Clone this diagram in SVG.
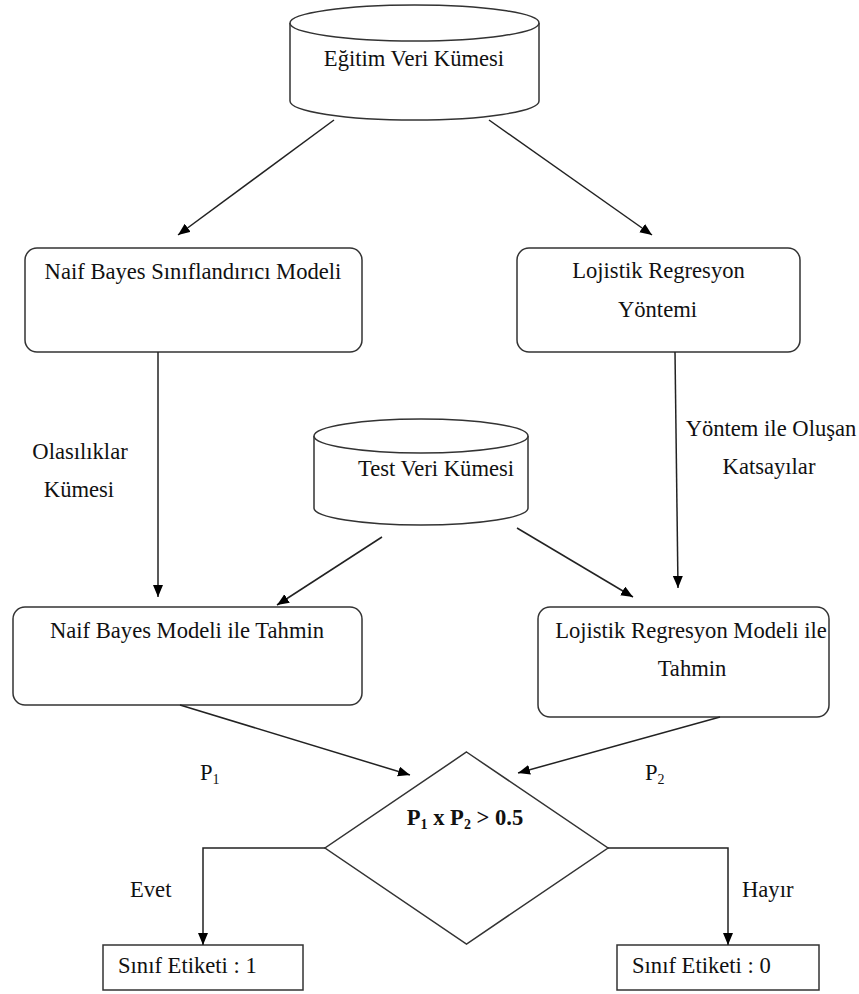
<svg xmlns="http://www.w3.org/2000/svg" width="859" height="994" viewBox="0 0 859 994">
  <style>
    text { font-family: "Liberation Serif", "Times New Roman", serif; font-size: 22.6px; fill: #111; }
    .c { text-anchor: middle; }
    .b { font-weight: bold; }
    .shape { fill: #fff; stroke: #333; stroke-width: 1.5; }
    .edge { fill: none; stroke: #222; stroke-width: 1.5; marker-end: url(#arrow); }
  </style>
  <defs>
    <marker id="arrow" markerUnits="userSpaceOnUse" markerWidth="13" markerHeight="11" refX="12" refY="5" orient="auto">
      <path d="M0,0 L12,5 L0,10 z" fill="#000"/>
    </marker>
  </defs>

  <rect width="859" height="994" fill="#fff"/>

  <!-- training data store -->
  <g id="egitim-veri">
    <path class="shape" d="M290,23 L290,101 A124.5,19 0 0 0 539,101 L539,23"/>
    <ellipse class="shape" cx="414.5" cy="23" rx="124.5" ry="18"/>
    <text class="c" x="414" y="66">Eğitim Veri Kümesi</text>
  </g>

  <!-- naive bayes model -->
  <g id="naif-bayes-model">
    <rect class="shape" x="25" y="248" width="337" height="104" rx="12"/>
    <text class="c" x="193" y="279">Naif Bayes Sınıflandırıcı Modeli</text>
  </g>

  <!-- logistic regression method -->
  <g id="lojistik-yontem">
    <rect class="shape" x="517" y="248" width="283" height="104" rx="12"/>
    <text class="c" x="658.5" y="278">Lojistik Regresyon</text>
    <text class="c" x="657.5" y="317">Yöntemi</text>
  </g>

  <!-- test data store -->
  <g id="test-veri">
    <path class="shape" d="M314,436 L314,508 A107,17 0 0 0 528,508 L528,436"/>
    <ellipse class="shape" cx="421" cy="436" rx="107" ry="17"/>
    <text class="c" x="436" y="476">Test Veri Kümesi</text>
  </g>

  <!-- naive bayes prediction -->
  <g id="naif-bayes-tahmin">
    <rect class="shape" x="13" y="607" width="349" height="98" rx="12"/>
    <text class="c" x="187" y="638">Naif Bayes Modeli ile Tahmin</text>
  </g>

  <!-- logistic regression prediction -->
  <g id="lojistik-tahmin">
    <rect class="shape" x="538" y="607" width="291" height="110" rx="12"/>
    <text class="c" x="691" y="638">Lojistik Regresyon Modeli ile</text>
    <text class="c" x="692" y="676">Tahmin</text>
  </g>

  <!-- decision -->
  <g id="karar">
    <polygon class="shape" points="466.5,752 608,848 466.5,944 325,848"/>
    <text class="c b" x="465" y="825">P<tspan font-size="14" dy="4">1</tspan><tspan dy="-4"> x P</tspan><tspan font-size="14" dy="4">2</tspan><tspan dy="-4"> &gt; 0.5</tspan></text>
  </g>

  <!-- class labels -->
  <g id="sinif-1">
    <rect class="shape" x="103" y="945" width="200" height="45"/>
    <text x="118" y="973">Sınıf Etiketi : 1</text>
  </g>
  <g id="sinif-0">
    <rect class="shape" x="617" y="945" width="202" height="45"/>
    <text x="632" y="973">Sınıf Etiketi : 0</text>
  </g>

  <!-- connectors -->
  <g id="connectors">
    <path class="edge" d="M334,120 L178,235"/>
    <path class="edge" d="M489,120 L652,235"/>
    <path class="edge" d="M158,352 L158,597"/>
    <path class="edge" d="M675,352 L678,588"/>
    <path class="edge" d="M382,537 L277,605"/>
    <path class="edge" d="M517,528 L633,597"/>
    <path class="edge" d="M180,705 L410,775"/>
    <path class="edge" d="M720,717 L518,773"/>
    <path class="edge" d="M325,848 L203,848 L203,945"/>
    <path class="edge" d="M608,848 L728,848 L728,945"/>
  </g>

  <!-- connector labels -->
  <g id="edge-labels">
    <text class="c" x="80" y="459">Olasılıklar</text>
    <text class="c" x="79" y="497">Kümesi</text>
    <text class="c" x="771" y="436">Yöntem ile Oluşan</text>
    <text class="c" x="769" y="474">Katsayılar</text>
    <text x="200" y="780">P<tspan font-size="14" dy="4">1</tspan></text>
    <text x="645" y="780">P<tspan font-size="14" dy="4">2</tspan></text>
    <text x="130" y="897">Evet</text>
    <text x="742" y="897">Hayır</text>
  </g>
</svg>
